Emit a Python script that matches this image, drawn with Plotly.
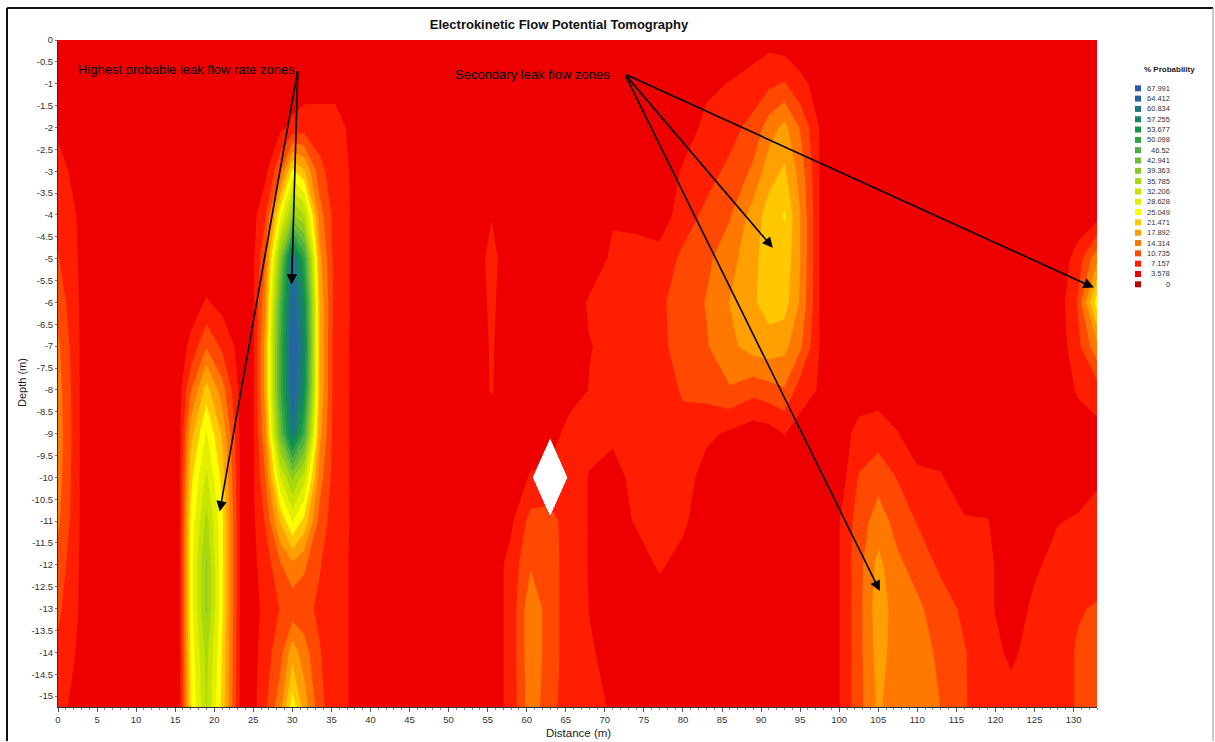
import numpy as np
import plotly.graph_objects as go

# ---------------- data ----------------
depth_m = [0, 1, 2, 3, 4, 5, 6, 7, 8, 9, 10, 11, 12, 13, 14, 15.25]

west_distance = [0, 3, 8, 13, 15.5, 17, 19, 21, 23.5, 25, 26.5, 28.5, 30, 31.5, 33.5, 35.5, 37.5, 42]
west_profiles = [
    [5, 5, 6.5, 8.5, 9.5, 11, 13, 15, 16, 16.5, 16, 15, 13, 11.5, 10, 8],
    [5, 5, 5, 5.5, 6.5, 6.5, 6.5, 6.5, 6.5, 6.5, 6.5, 6.5, 6.5, 6.5, 6.2, 6],
    [5, 5, 5, 5, 5, 5, 5, 5, 5, 5, 5, 5, 5, 5, 5, 5],
    [5, 5, 5, 5, 5, 5, 5, 5, 5, 5, 5, 5, 5, 5, 5, 5],
    [5, 5, 5, 5, 5, 5, 5, 5.5, 5.5, 5.5, 5.5, 5.5, 5.5, 5.5, 5.5, 5.5],
    [5, 5, 5, 5, 5, 5, 5.5, 8, 14, 20, 24, 26, 27, 27, 26, 25],
    [5, 5, 5, 5, 5, 5, 7.5, 14, 23, 29, 33, 37, 40, 40, 37, 36],
    [5, 5, 5, 5, 5, 5, 6, 10, 16, 21, 24, 26, 26, 26, 25, 24],
    [5, 5, 5, 5, 5, 5, 5, 5.5, 5.5, 5.5, 5.5, 5.5, 5.5, 5.5, 5.5, 5.5],
    [5, 5, 5, 5, 6, 6.5, 6.5, 6.5, 6.5, 6.5, 6.5, 6.5, 6.5, 6, 6, 6],
    [5, 5, 5, 6, 10, 14, 17, 19, 19, 17, 14, 11, 8.5, 8, 9, 10],
    [5, 5, 6.5, 14, 28, 42, 48, 50, 50, 45, 32, 22, 14, 11, 13, 17],
    [5, 5, 8, 26, 40, 65, 67, 68, 67, 63, 40, 29, 17, 12, 20, 27],
    [5, 5.5, 9, 22, 36, 52, 58, 60, 58, 50, 34, 24, 15, 12, 16, 20],
    [5, 6, 8.5, 12, 16, 19, 21, 21, 21, 19, 16, 13, 11, 10, 11, 12],
    [5, 6, 8.5, 8.5, 9, 9, 9, 8.5, 8.5, 8.5, 8.5, 8.5, 8, 8, 8, 8],
    [5, 5, 6.5, 7, 7, 7, 7, 7, 7, 7, 7, 7, 7, 7, 7, 7],
    [5, 5, 5, 5, 5, 5, 5, 5, 5, 5, 5, 5, 5, 5, 5, 5],
]

NA = None  # unmeasured node (white gap in the section)

central_distance = [50, 53, 55.5, 58, 60.5, 63, 65.5, 68, 71, 74, 77, 80, 83, 86, 89, 91, 93, 95, 97.5]
central_profiles = [
    [5, 5, 5, 5, 5, 5, 5, 5, 5, 5, 5, 5, 5, 5, 5, 5],
    [5, 5, 5, 5, 5, 5, 5, 5, 5, 5, 5, 5, 5, 5, 5, 5],
    [5, 5, 5, 5, 7, 8.2, 7.8, 7.5, 7.4, 5.5, 5, 5, 5, 5, 5, 5],
    [5, 5, 5, 5, 5, 5, 5, 5, 5, 5, 5, 6.5, 8.5, 8.5, 8.5, 8.5],
    [5, 5, 5, 5, 5, 5, 5, 5, 5, 5, 7.5, 12, 14, 17, 17, 16.5],
    [5, 5, 5, 5, 5, 5, 5, 5, 5, 5, NA, 12, 12.5, 12.5, 12.5, 12],
    [5, 5, 5, 5, 5, 5, 5, 5, 5, 9, 9, 9, 8.8, 8.8, 8.8, 8.8],
    [5, 5, 5, 5, 5, 5, 7.6, 7.0, 7.3, 8, 7.0, 7.0, 7.0, 7.1, 7.4, 7.6],
    [5, 5, 5, 5, 6.8, 7.8, 8, 8, 8, 8, 5.5, 5.5, 5.5, 5.5, 6.5, 7.0],
    [5, 5, 5, 5, 6.5, 8, 8.5, 8.5, 8.5, 8.5, 8.5, 7.5, 5.5, 5, 5, 5],
    [5, 5, 5, 5, 5, 8.5, 10, 10, 9.5, 9, 8.5, 8, 7.6, 5.5, 5, 5],
    [5, 5, 5.5, 7.5, 9, 11.5, 12.5, 12, 11, 10, 9, 7.8, 6, 5, 5, 5],
    [5, 6.5, 8, 9.5, 11.5, 13.5, 14.5, 14, 12, 8, 5.5, 5, 5, 5, 5, 5],
    [5, 7.3, 9.5, 11.5, 14, 16.5, 18, 17, 14, 6.5, 5, 5, 5, 5, 5, 5],
    [5.5, 8.5, 12, 15, 19.5, 20.5, 21, 19.5, 12, 5, 5, 5, 5, 5, 5, 5],
    [6, 10, 16, 20, 23, 23.5, 23, 20, 13, 5.5, 5, 5, 5, 5, 5, 5],
    [5, 11, 19, 22, 25.3, 24, 23, 19, 14, 7.3, 5, 5, 5, 5, 5, 5],
    [5, 8, 14, 16.5, 18, 18, 17.5, 15, 9, 5.5, 5, 5, 5, 5, 5, 5],
    [5, 6, 7, 7.1, 7.1, 7.1, 7.1, 7.1, 6.8, 5.5, 5, 5, 5, 5, 5, 5],
]

east_distance = [100, 102.5, 105, 107.5, 110, 113, 116, 119, 122, 125, 128, 130.5, 133]
east_profiles = [
    [5, 5, 5, 5, 5, 5, 5, 5, 5, 5, 5, 7.0, 7.0, 7.0, 7.0, 7.0],
    [5, 5, 5, 5, 5, 5, 5, 5, 5, 8.5, 11, 12.5, 13, 13, 13, 13],
    [5, 5, 5, 5, 5, 5, 5, 5, 5.5, 9, 13, 16, 19, 20, 19.5, 18.5],
    [5, 5, 5, 5, 5, 5, 5, 5, 5, 7.3, 10.5, 13, 15, 16, 16, 15.5],
    [5, 5, 5, 5, 5, 5, 5, 5, 5, 5, 8, 10.5, 13, 15, 15, 15],
    [5, 5, 5, 5, 5, 5, 5, 5, 5, 5, 7.5, 9, 10, 12.5, 14, 14.3],
    [5, 5, 5, 5, 5, 5, 5, 5, 5, 5, 5, 7.5, 8.5, 10, 11, 11],
    [5, 5, 5, 5, 5, 5, 5, 5, 5, 5, 5, 7.3, 8, 8, 8.5, 9],
    [5, 5, 5, 5, 5, 5, 5, 5, 5, 5, 5, 5, 5, 5, 6.5, 8.5],
    [5, 5, 5, 5, 5, 5, 5, 5, 5, 5, 5, 5.5, 6.5, 8, 8.5, 8.5],
    [5, 5, 5, 5, 5, 5, 5, 5, 5, 5, 5, 7.0, 8.5, 9, 9.5, 9.5],
    [5, 5, 5, 5, 5, 8.5, 11, 9.5, 7.5, 5.5, 5.5, 7.5, 9, 10.5, 11, 11],
    [5, 5, 5, 5, 5.5, 17, 27, 17, 9, 6, 6.8, 8, 9.5, 11, 12, 12.5],
]

legend_levels = ["0", "3.578", "7.157", "10.735", "14.314", "17.892", "21.471", "25.049",
                 "28.628", "32.206", "35.785", "39.363", "42.941", "46.52", "50.098",
                 "53.677", "57.255", "60.834", "64.412", "67.991"]
band_colors = ["#C00000", "#EE0000", "#FF1E00", "#FF4800", "#FF7800", "#FFA000", "#FFC800",
               "#FFFF00", "#E2F000", "#C6E400", "#A8D810", "#8ACB24", "#6CBD34", "#4EB040",
               "#30A246", "#14964A", "#188660", "#1E7684", "#2464A2", "#2C5CAE"]

distance_tick_labels = [str(v) for v in range(0, 135, 5)]
depth_tick_labels = ["0", "-0.5", "-1", "-1.5", "-2", "-2.5", "-3", "-3.5", "-4", "-4.5", "-5",
                     "-5.5", "-6", "-6.5", "-7", "-7.5", "-8", "-8.5", "-9", "-9.5", "-10",
                     "-10.5", "-11", "-11.5", "-12", "-12.5", "-13", "-13.5", "-14", "-14.5", "-15"]

title_text = "Electrokinetic Flow Potential Tomography"
x_title = "Distance (m)"
y_title = "Depth (m)"
label_primary = "Highest probable leak flow rate zones"
label_secondary = "Secondary leak flow zones"
primary_tail = (30.7, -0.68)
primary_heads = [(29.9, -5.59), (20.7, -10.78)]
secondary_tail = (72.55, -0.78)
secondary_heads = [(91.5, -4.75), (132.6, -5.66), (105.2, -12.6)]

# ---------------- build grid ----------------
distance_m = west_distance + central_distance + east_distance
columns = west_profiles + central_profiles + east_profiles
z = np.array([[np.nan if v is None else v for v in col] for col in columns], dtype=float).T
y_vals = [-d for d in depth_m]

top_level = float(legend_levels[-1])
step = top_level / 19.0
colorscale = [[i / 19.0, c] for i, c in enumerate(band_colors)]

FONT = "Liberation Sans, Arial, sans-serif"

fig = go.Figure(go.Contour(
    x=distance_m, y=y_vals, z=z,
    autocontour=False, connectgaps=False,
    contours=dict(start=step, end=19 * step, size=step, coloring="fill", showlines=False),
    colorscale=colorscale, showscale=False, line=dict(width=0, smoothing=0),
    hoverinfo="skip",
))

# plot area in pixels
L, R, T, B = 58, 1097, 40, 707
W, H = 1215, 742
pw, ph = R - L, B - T


def px2paper(px, py):
    return (px - L) / pw, (B - py) / ph


fig.update_layout(
    width=W, height=H,
    margin=dict(l=L, r=W - R, t=T, b=H - B, pad=0, autoexpand=False),
    paper_bgcolor="white", plot_bgcolor="white",
    font=dict(family=FONT, size=10, color="#222"),
    showlegend=False,
    title=dict(text="<b>" + title_text + "</b>", x=559 / W, xanchor="center",
               y=1 - 24 / H, yanchor="middle", font=dict(size=13, color="#111", family=FONT)),
    xaxis=dict(
        range=[0, 133], tickmode="array", automargin=False,
        tickvals=[float(t) for t in distance_tick_labels], ticktext=distance_tick_labels,
        ticks="outside", ticklen=4, tickcolor="#555", tickfont=dict(size=9.5, color="#333"),
        ticklabelstandoff=0,
        minor=dict(tickmode="linear", tick0=0, dtick=1, ticks="outside", ticklen=2, tickcolor="#888"),
        showline=True, linecolor="#333", linewidth=1, showgrid=False, zeroline=False,
    ),
    yaxis=dict(
        range=[-15.25, 0], tickmode="array", automargin=False,
        tickvals=[float(t) for t in depth_tick_labels], ticktext=depth_tick_labels,
        ticks="outside", ticklen=2, tickcolor="#777", tickfont=dict(size=9.5, color="#333"),
        showline=True, linecolor="#333", linewidth=1, showgrid=False, zeroline=False,
    ),
)

shapes = []
# outer frame
fx0, fy0 = px2paper(7, 741)
fx1, fy1 = px2paper(1213, 8)
shapes.append(dict(type="line", xref="paper", yref="paper", x0=fx0, x1=fx1, y0=fy1, y1=fy1,
                   line=dict(color="#111", width=2)))
shapes.append(dict(type="line", xref="paper", yref="paper", x0=fx0, x1=fx0, y0=fy0, y1=fy1,
                   line=dict(color="#111", width=2)))
shapes.append(dict(type="line", xref="paper", yref="paper", x0=fx1, x1=fx1, y0=fy0, y1=fy1,
                   line=dict(color="#999", width=1)))

annotations = []
# axis titles
axx, axy = px2paper(578, 733)
annotations.append(dict(xref="paper", yref="paper", x=axx, y=axy, xanchor="center", yanchor="middle",
                        text=x_title, showarrow=False, font=dict(size=11.5, color="#222", family=FONT)))
ayx, ayy = px2paper(22, 383)
annotations.append(dict(xref="paper", yref="paper", x=ayx, y=ayy, xanchor="center", yanchor="middle",
                        text=y_title, textangle=-90, showarrow=False,
                        font=dict(size=11, color="#222", family=FONT)))

# legend
lx0, _ = px2paper(1135, 0)
lx1, _ = px2paper(1141, 0)
ltx, _ = px2paper(1172, 0)
for i, (lev, col) in enumerate(zip(reversed(legend_levels), reversed(band_colors))):
    py = 88.3 + i * (284.3 - 88.3) / 19
    _, yc = px2paper(0, py)
    _, ya = px2paper(0, py - 3)
    _, yb = px2paper(0, py + 3)
    shapes.append(dict(type="rect", xref="paper", yref="paper", x0=lx0, x1=lx1, y0=yb, y1=ya,
                       fillcolor=col, line=dict(width=0)))
    annotations.append(dict(xref="paper", yref="paper", x=ltx, y=yc, xanchor="right", yanchor="middle",
                            text=lev, showarrow=False, font=dict(size=7.5, color="#333", family=FONT)))
tx, ty = px2paper(1169, 70)
annotations.append(dict(xref="paper", yref="paper", x=tx, y=ty, xanchor="center", yanchor="middle",
                        text="<b>% Probability</b>", showarrow=False,
                        font=dict(size=8, color="#222", family=FONT)))

# callout labels
annotations.append(dict(xref="x", yref="y", x=primary_tail[0] - 0.1, y=primary_tail[1], xanchor="right",
                        yanchor="middle", text=label_primary, showarrow=False,
                        font=dict(size=13, color="#000", family=FONT)))
annotations.append(dict(xref="x", yref="y", x=secondary_tail[0] - 1.6, y=secondary_tail[1], xanchor="right",
                        yanchor="middle", text=label_secondary, showarrow=False,
                        font=dict(size=13, color="#000", family=FONT)))
for tail, heads in ((primary_tail, primary_heads), (secondary_tail, secondary_heads)):
    for hx, hy in heads:
        annotations.append(dict(xref="x", yref="y", axref="x", ayref="y", x=hx, y=hy,
                                ax=tail[0], ay=tail[1], text="", showarrow=True,
                                arrowhead=2, arrowsize=1.3, arrowwidth=1.6, arrowcolor="#000",
                                standoff=0, startstandoff=0))

fig.update_layout(shapes=shapes, annotations=annotations)
fig.write_html("out.html")
